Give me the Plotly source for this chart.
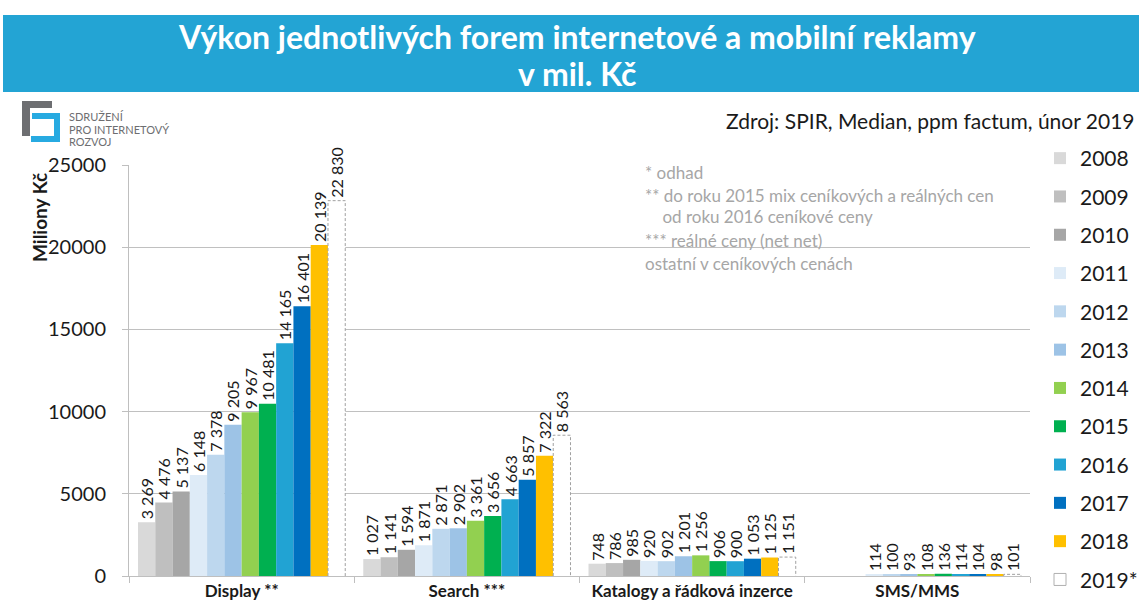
import plotly.graph_objects as go

# Data
categories = ["Display **", "Search ***", "Katalogy a řádková inzerce", "SMS/MMS"]
years = ["2008", "2009", "2010", "2011", "2012", "2013", "2014", "2015",
         "2016", "2017", "2018", "2019*"]
display = [3269, 4476, 5137, 6148, 7378, 9205, 9967, 10481, 14165, 16401, 20139, 22830]
search = [1027, 1141, 1594, 1871, 2871, 2902, 3361, 3656, 4663, 5857, 7322, 8563]
katalogy = [748, 786, 985, 920, 902, 1201, 1256, 906, 900, 1053, 1125, 1151]
sms = [None, None, None, 114, 100, 93, 108, 136, 114, 104, 98, 101]
colors = ["#d9d9d9", "#bfbfbf", "#a6a6a6", "#deebf7", "#bdd7ee", "#9dc3e6",
          "#92d050", "#00b050", "#21a3d3", "#0070c0", "#ffc000", "#ffffff"]

title_lines = ["Výkon jednotlivých forem internetové a mobilní reklamy", "v mil. Kč"]
notes = ["* odhad",
         "** do roku 2015 mix ceníkových a reálných cen",
         "    od roku 2016 ceníkové ceny",
         "*** reálné ceny (net net)",
         "ostatní v ceníkových cenách"]

FONT = "Lato"

# plot area in pixels (for decoration placement)
L, R, T, B = 129, 1030, 165, 576
def px(x):
    return (x - L) / (R - L)
def py(y):
    return (B - y) / (B - T)

series = list(zip(display, search, katalogy, sms))
idx = list(range(len(categories)))
group_w = 0.92
w = group_w / len(years)

fig = go.Figure()
for j, yr in enumerate(years):
    off = -group_w / 2 + j * w
    last = j == len(years) - 1
    fig.add_trace(go.Bar(
        x=idx, y=list(series[j]), name=yr, width=w, offset=off,
        marker=dict(color=colors[j], line=dict(width=0)),
        texttemplate="%{y:,}", textposition="outside", textangle=-90,
        textfont=dict(size=16, color="#1a1a1a", family=FONT),
        constraintext="none",
        cliponaxis=False, showlegend=not last, legendgroup=yr,
    ))
    if last:
        # dashed outline of the estimate bars
        xs, ys = [], []
        for i, v in zip(idx, series[j]):
            x0, x1 = i + off, i + off + w
            xs += [x0, x0, x1, x1, None]
            ys += [0, v, v, 0, None]
        fig.add_trace(go.Scatter(x=xs, y=ys, mode="lines", showlegend=False,
                                 line=dict(color="#a0a0a0", width=1, dash="3px,2px"),
                                 hoverinfo="skip", cliponaxis=False))
        # legend entry for the estimate
        fig.add_trace(go.Bar(x=[None], y=[None], name=yr, legendgroup=yr,
                             marker=dict(color="white", line=dict(color="#b0b0b0", width=1))))

# header banner
fig.add_shape(type="rect", xref="paper", yref="paper",
              x0=px(3), x1=px(1139), y0=py(92), y1=py(15),
              fillcolor="#23a4d4", line=dict(width=0), layer="below")
for t, yy in zip(title_lines, [37, 73]):
    fig.add_annotation(x=px(577), y=py(yy), xref="paper", yref="paper",
                       text="<b>" + t + "</b>", showarrow=False,
                       xanchor="center", yanchor="middle",
                       font=dict(size=32, color="white", family=FONT))

# logo
gray_logo = "M {a},{b} L {c},{b} L {c},{d} L {e},{d} L {e},{f} L {a},{f} Z".format(
    a=px(22), b=py(101), c=px(52), d=py(108), e=px(30), f=py(136))
blue_logo = "M {a},{b} L {c},{b} L {c},{d} L {h},{d} L {h},{e} L {f},{e} L {f},{g} L {a},{g} Z".format(
    a=px(32), b=py(113), c=px(60), d=py(142), e=py(136), f=px(54), g=py(119), h=px(31))
fig.add_shape(type="path", xref="paper", yref="paper", path=gray_logo,
              fillcolor="#6d6e71", line=dict(width=0))
fig.add_shape(type="path", xref="paper", yref="paper", path=blue_logo,
              fillcolor="#27aae1", line=dict(width=0))
for k, t in enumerate(["SDRUŽENÍ", "PRO INTERNETOVÝ", "ROZVOJ"]):
    fig.add_annotation(x=px(67), y=py(117 + 12 * k), xref="paper", yref="paper",
                       text=t, showarrow=False, xanchor="left", yanchor="middle",
                       font=dict(size=11, color="#6d6e71", family=FONT))

# source
fig.add_annotation(x=px(1137), y=py(120), xref="paper", yref="paper",
                   text="Zdroj: SPIR, Median, ppm factum, únor 2019", showarrow=False,
                   xanchor="right", yanchor="middle",
                   font=dict(size=21, color="#1a1a1a", family=FONT))

# notes
note_y = [172, 195, 217, 240, 263]
for t, yy in zip(notes, note_y):
    fig.add_annotation(x=px(643), y=py(yy), xref="paper", yref="paper",
                       text=t.replace("    ", "&nbsp;&nbsp;&nbsp;&nbsp;"), showarrow=False,
                       xanchor="left", yanchor="middle",
                       font=dict(size=17, color="#a6a6a6", family=FONT))

# y title
fig.add_annotation(x=px(40), y=py(218), xref="paper", yref="paper",
                   text="<b>Miliony Kč</b>", textangle=-90, showarrow=False,
                   xanchor="center", yanchor="middle",
                   font=dict(size=19, color="#1a1a1a", family=FONT))

fig.update_layout(
    width=1139, height=610,
    margin=dict(l=L, r=1139 - R, t=T, b=610 - B, autoexpand=False),
    paper_bgcolor="white", plot_bgcolor="white",
    barmode="overlay", separators=", ",
    font=dict(family=FONT, color="#1a1a1a"),
    legend=dict(x=px(1040), y=py(138), xanchor="left", yanchor="top",
                font=dict(size=21, family=FONT), tracegroupgap=8,
                itemwidth=30, bgcolor="rgba(0,0,0,0)", maxheight=600),
    showlegend=True,
)
fig.update_xaxes(range=[-0.5, 3.5], tickvals=idx, ticktext=categories, ticks="",
                 tickfont=dict(size=17, family=FONT, color="#1a1a1a", weight="bold"),
                 showgrid=False, showline=True, linecolor="#bfbfbf", zeroline=False,
                 automargin=False,
                 minor=dict(tick0=-0.5, dtick=1, ticks="outside", ticklen=6,
                            tickcolor="#bfbfbf", showgrid=False))
fig.update_yaxes(range=[0, 25000], dtick=5000, tickformat="d",
                 tickfont=dict(size=20, family=FONT, color="#1a1a1a"),
                 showgrid=True, gridcolor="#c0c0c0", showline=True, linecolor="#bfbfbf",
                 ticks="outside", ticklen=6, tickcolor="#bfbfbf", ticklabelstandoff=12,
                 zeroline=False, automargin=False)

# the page's default body margin would shift the figure
fig.write_html("out.html", config={"displayModeBar": False},
               post_script="document.body.style.margin='0';")
